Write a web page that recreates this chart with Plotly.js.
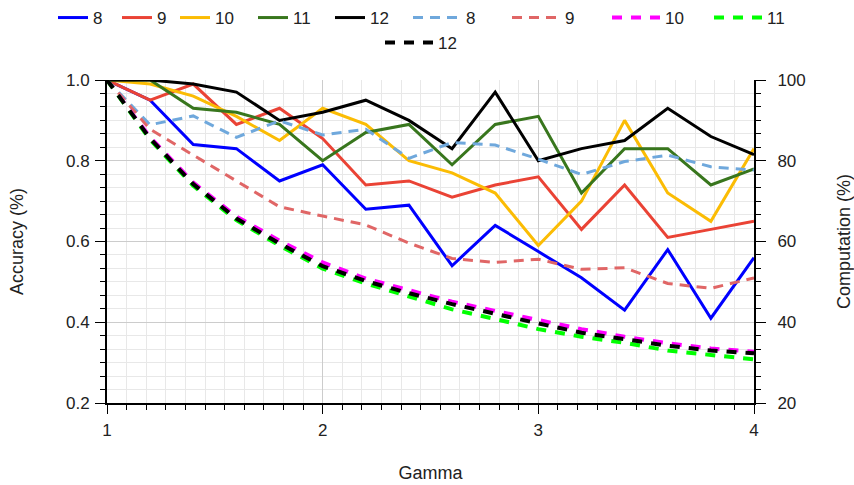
<!DOCTYPE html>
<html>
<head>
<meta charset="utf-8">
<script src="https://cdn.plot.ly/plotly-3.0.1.min.js"></script>
<style>html,body{margin:0;padding:0;background:#fff;}#chart{width:854px;height:485px;}</style>
</head>
<body>
<div id="chart"></div>
<script>
var gamma = [1.0, 1.2, 1.4, 1.6, 1.8, 2.0, 2.2, 2.4, 2.6, 2.8, 3.0, 3.2, 3.4, 3.6, 3.8, 4.0];

// Accuracy (left axis)
var acc8  = [1.00, 0.95, 0.84, 0.83, 0.75, 0.79, 0.68, 0.69, 0.54, 0.64, 0.575, 0.51, 0.43, 0.58, 0.41, 0.56];
var acc9  = [1.00, 0.95, 0.99, 0.89, 0.93, 0.855, 0.74, 0.75, 0.71, 0.74, 0.76, 0.63, 0.74, 0.61, 0.63, 0.65];
var acc10 = [1.00, 0.99, 0.96, 0.91, 0.85, 0.93, 0.89, 0.80, 0.77, 0.72, 0.59, 0.70, 0.90, 0.72, 0.65, 0.83];
var acc11 = [1.00, 1.00, 0.93, 0.92, 0.89, 0.80, 0.87, 0.89, 0.79, 0.89, 0.91, 0.72, 0.83, 0.83, 0.74, 0.78];
var acc12 = [1.00, 1.00, 0.99, 0.97, 0.90, 0.92, 0.95, 0.90, 0.83, 0.97, 0.80, 0.83, 0.85, 0.93, 0.86, 0.815];

// Computation (right axis)
var comp8  = [100, 88.9, 91.1, 85.8, 89.9, 86.4, 87.8, 80.6, 84.5, 83.9, 80.4, 76.6, 79.8, 81.4, 78.5, 77.7];
var comp9  = [100, 87.8, 81.4, 74.9, 68.6, 66.3, 64.1, 59.6, 55.8, 54.8, 55.6, 53.1, 53.5, 49.6, 48.4, 51.0];
var comp10 = [100, 85.8, 74.6, 66.2, 60.2, 54.8, 50.8, 47.9, 45.1, 42.8, 40.6, 38.3, 36.4, 34.8, 33.5, 32.7];
var comp11 = [100, 85.2, 73.8, 65.3, 59.0, 53.3, 49.6, 46.3, 43.2, 40.8, 38.3, 36.4, 34.9, 33.0, 31.9, 30.8];
var comp12 = [100, 85.5, 74.2, 65.7, 59.5, 53.9, 50.2, 47.2, 44.5, 42.0, 39.7, 37.4, 35.8, 34.2, 33.0, 32.3];

var names = ['8', '9', '10', '11', '12'];
var accSeries = [acc8, acc9, acc10, acc11, acc12];
var compSeries = [comp8, comp9, comp10, comp11, comp12];
var accColors = ['#0000ff', '#ea4335', '#fbbc04', '#38761d', '#000000'];
var compColors = ['#6fa8dc', '#e06666', '#ff00ff', '#00ff00', '#000000'];
var compWidths = [3, 3, 4, 4, 4];
var compDash = ['10px,7px', '10px,7px', '10px,9px', '10px,9px', '10px,9px'];
var accLegendW = [19, 13, 33, 32, 32];
var compLegendW = [36, 37, 39, 39, 39];
var compLegend = ['legend2', 'legend2', 'legend2', 'legend2', 'legend3'];

var traces = [];
for (var i = 0; i < 5; i++) {
  traces.push({
    x: gamma, y: accSeries[i], name: names[i], type: 'scatter', mode: 'lines',
    line: {color: accColors[i], width: 3}, xaxis: 'x', yaxis: 'y',
    legend: 'legend', legendwidth: accLegendW[i]
  });
}
for (var j = 0; j < 5; j++) {
  traces.push({
    x: gamma, y: compSeries[j], name: names[j], type: 'scatter', mode: 'lines',
    line: {color: compColors[j], width: compWidths[j], dash: compDash[j]}, xaxis: 'x', yaxis: 'y2',
    legend: compLegend[j], legendwidth: compLegendW[j]
  });
}

var FAM = 'Liberation Sans, Arial, sans-serif';
var TXT = '#222222';
var tickF = {family: FAM, size: 17, color: TXT};
var titleF = {family: FAM, size: 18, color: TXT};
var legF = {family: FAM, size: 17, color: TXT};

var layout = {
  width: 854, height: 485,
  margin: {l: 107, r: 100, t: 80, b: 82, pad: 0},
  paper_bgcolor: '#ffffff', plot_bgcolor: '#ffffff',
  font: {family: FAM, size: 17, color: TXT},
  showlegend: true,
  legend: {orientation: 'h', xref: 'container', yref: 'container', x: 53/854, xanchor: 'left',
           y: 1.0, yanchor: 'top', itemwidth: 30, font: legF, bgcolor: 'rgba(0,0,0,0)'},
  legend2: {orientation: 'h', xref: 'container', yref: 'container', x: 408/854, xanchor: 'left',
           y: 1.0, yanchor: 'top', itemwidth: 48, font: legF, bgcolor: 'rgba(0,0,0,0)'},
  legend3: {orientation: 'h', xref: 'container', yref: 'container', x: 380/854, xanchor: 'left',
           y: 1 - 25/485, yanchor: 'top', itemwidth: 48, font: legF, bgcolor: 'rgba(0,0,0,0)'},
  xaxis: {
    range: [1, 4], dtick: 1, tick0: 1, showgrid: true, gridcolor: '#cccccc', gridwidth: 1,
    zeroline: false, showline: true, linecolor: '#000000', linewidth: 2,
    ticks: 'outside', ticklen: 9, tickcolor: '#000000', tickwidth: 1,
    ticklabelstandoff: 2,
    minor: {dtick: 1/11, tick0: 1, showgrid: true, gridcolor: '#e8e8e8', gridwidth: 1, ticks: 'outside', ticklen: 5, tickcolor: '#000000'},
    title: {text: 'Gamma', font: titleF, standoff: 27},
    tickfont: tickF
  },
  yaxis: {
    range: [0.2, 1.0], dtick: 0.2, tick0: 0.2, tickformat: '.1f', showgrid: true, gridcolor: '#cccccc',
    zeroline: false, showline: true, linecolor: '#000000', linewidth: 2,
    ticks: 'outside', ticklen: 10, tickcolor: '#000000', ticklabelstandoff: 2,
    minor: {dtick: 0.2/6, tick0: 0.2, showgrid: true, gridcolor: '#e8e8e8', ticks: 'outside', ticklen: 5, tickcolor: '#000000'},
    title: {text: 'Accuracy (%)', font: titleF, standoff: 38},
    tickfont: tickF
  },
  yaxis2: {
    range: [20, 100], dtick: 20, tick0: 20, overlaying: 'y', side: 'right', anchor: 'x',
    showgrid: false, zeroline: false, showline: true, linecolor: '#000000', linewidth: 2,
    ticks: 'outside', ticklen: 10, tickcolor: '#000000', ticklabelstandoff: 8,
    minor: {dtick: 20/6, tick0: 20, showgrid: false, ticks: 'outside', ticklen: 5, tickcolor: '#000000'},
    title: {text: 'Computation (%)', font: titleF, standoff: 33},
    tickfont: tickF
  },
  xaxis3: {
    range: [1, 4], dtick: 1, tick0: 1, overlaying: 'x', anchor: 'y', side: 'bottom',
    showgrid: false, zeroline: false, showline: false, showticklabels: false,
    ticks: 'inside', ticklen: 9, tickcolor: '#000000',
    minor: {dtick: 1/11, tick0: 1, showgrid: false, ticks: 'inside', ticklen: 5, tickcolor: '#000000'}
  },
  yaxis3: {
    range: [0.2, 1.0], dtick: 0.2, tick0: 0.2, overlaying: 'y', side: 'left', anchor: 'x',
    showgrid: false, zeroline: false, showline: false, showticklabels: false,
    ticks: 'inside', ticklen: 5, tickcolor: '#000000',
    minor: {dtick: 0.2/6, tick0: 0.2, showgrid: false, ticks: 'inside', ticklen: 5, tickcolor: '#000000'}
  },
  yaxis4: {
    range: [20, 100], dtick: 20, tick0: 20, overlaying: 'y', side: 'right', anchor: 'x',
    showgrid: false, zeroline: false, showline: false, showticklabels: false,
    ticks: 'inside', ticklen: 5, tickcolor: '#000000',
    minor: {dtick: 20/6, tick0: 20, showgrid: false, ticks: 'inside', ticklen: 5, tickcolor: '#000000'}
  }
};

Plotly.newPlot('chart', traces, layout, {displayModeBar: false, staticPlot: true});
</script>
</body>
</html>
